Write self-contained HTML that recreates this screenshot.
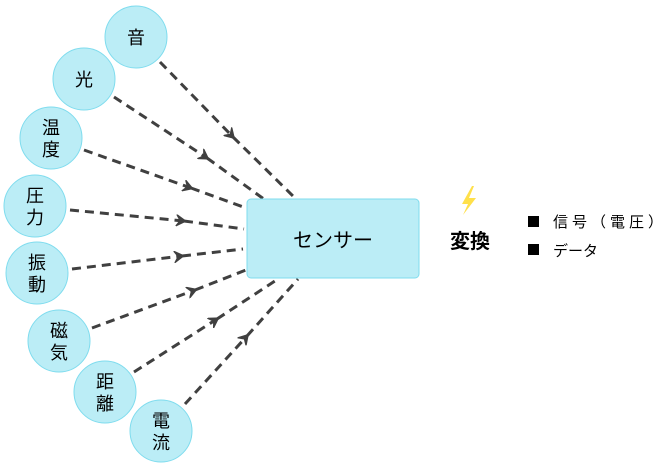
<!DOCTYPE html>
<html><head><meta charset="utf-8"><style>
body{margin:0;background:#fff;}
svg{display:block}
text{font-family:"Liberation Sans","Noto Sans CJK JP",sans-serif;}
</style></head><body>
<svg width="662" height="466" viewBox="0 0 662 466">
<defs>
<marker id="a" viewBox="0 0 12 12" refX="8" refY="6" markerWidth="12" markerHeight="12" markerUnits="userSpaceOnUse" orient="auto">
<path d="M0,0 L10,6 L0,12 L4,6 Z" fill="#404040" stroke="#404040" stroke-width="1"/>
</marker>
</defs>
<g stroke="#404040" stroke-width="3" stroke-dasharray="9,6" fill="none">
<path d="M160,62 L233,137" marker-end="url(#a)"/><path d="M233,137 L296,199"/>
<path d="M114,97 L207,158" marker-end="url(#a)"/><path d="M207,158 L268,202"/>
<path d="M84,150 L191,188" marker-end="url(#a)"/><path d="M191,188 L246,208"/>
<path d="M70,210 L184,221" marker-end="url(#a)"/><path d="M184,221 L244,229"/>
<path d="M72,269 L182,256" marker-end="url(#a)"/><path d="M182,256 L243,249"/>
<path d="M92,328 L195,290" marker-end="url(#a)"/><path d="M195,290 L246,270"/>
<path d="M134,372 L217,319" marker-end="url(#a)"/><path d="M217,319 L278,279"/>
<path d="M185,404 L247,336" marker-end="url(#a)"/><path d="M247,336 L298,279"/>
</g>
<g fill="#bbedf6" stroke="#7fdcee" stroke-width="1">
<circle cx="136" cy="37" r="31"/>
<circle cx="84" cy="79" r="31"/>
<circle cx="51" cy="138" r="31"/>
<circle cx="35" cy="206" r="31"/>
<circle cx="37" cy="273" r="31"/>
<circle cx="59" cy="341" r="31"/>
<circle cx="105" cy="392" r="31"/>
<circle cx="161" cy="431" r="31"/>
<rect x="247" y="199" width="172" height="79" rx="4"/>
</g>
<g font-size="18" text-anchor="middle" fill="#000">
<text x="136" y="44">音</text>
<text x="84" y="86">光</text>
<text x="51" y="134">温</text><text x="51" y="156">度</text>
<text x="35" y="202">圧</text><text x="35" y="224">力</text>
<text x="37" y="269">振</text><text x="37" y="291">動</text>
<text x="59" y="337">磁</text><text x="59" y="359">気</text>
<text x="105" y="388">距</text><text x="105" y="410">離</text>
<text x="161" y="427">電</text><text x="161" y="449">流</text>
<text x="333" y="247" font-size="20">センサー</text>
<text x="470" y="248" font-size="20" font-weight="bold">変換</text>
</g>
<path d="M472,186 L462,204 L468,204 L463,215 L476,198 L469,198 L474,186 Z" fill="#ffe04a"/>
<rect x="528" y="216" width="11" height="11" fill="#000"/>
<rect x="528" y="244" width="11" height="11" fill="#000"/>
<text x="553" y="227" font-size="15" letter-spacing="4">信号（電圧）</text>
<text x="553" y="256" font-size="15">データ</text>
</svg>
</body></html>
